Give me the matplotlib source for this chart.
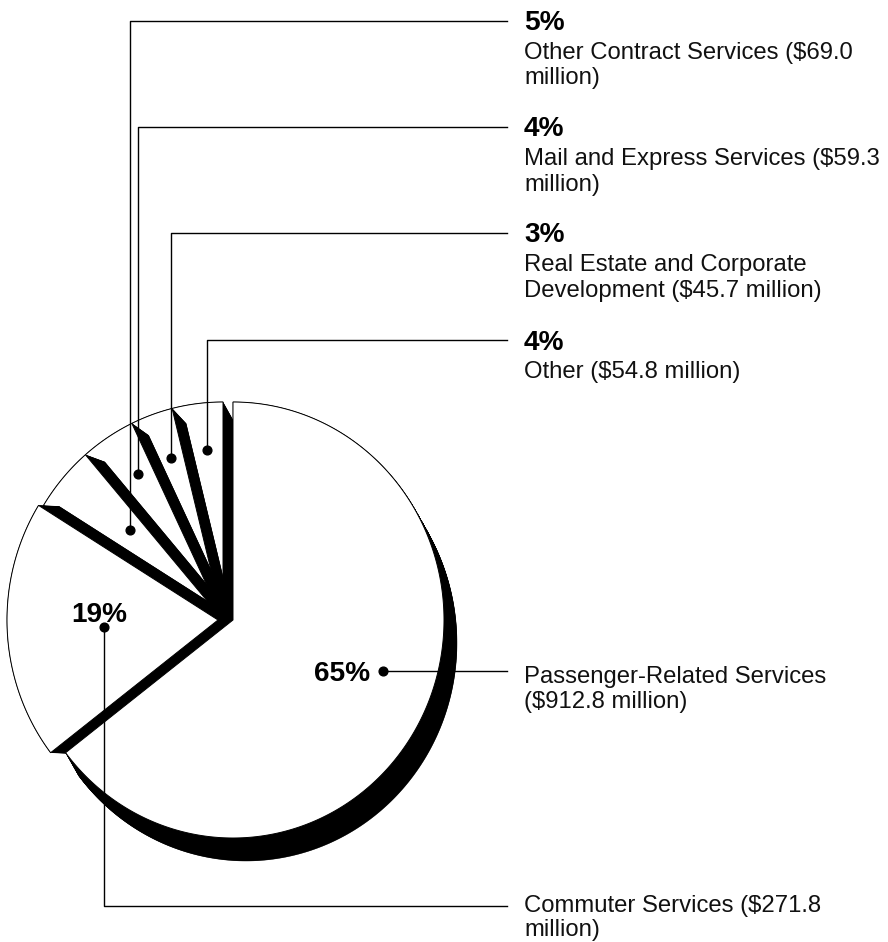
import textwrap
import numpy as np
import matplotlib
matplotlib.use("Agg")
import matplotlib.pyplot as plt
from matplotlib.patches import Polygon

# ---------------- data ----------------
categories = ["Passenger-Related Services", "Commuter Services",
              "Other Contract Services", "Mail and Express Services",
              "Real Estate and Corporate Development", "Other"]
values = [912.8, 271.8, 69.0, 59.3, 45.7, 54.8]   # $ million

# ---------------- layout ----------------
W, H = 888, 942
CX, CY = 223, 620          # pie centre (pixels)
RX, RY = 211, 218          # face radii (pixels)
shift_x = [10, -5, 0, 0, 0, 0]          # small horizontal separation of big slices
dot_dang = [8.1, 0.6, -2.6, -2.0, -1.3, -1.4]
dot_rad = [0.749, 0.541, 0.604, 0.783, 0.782, 0.784]
top_leader_y = {2: 20.7, 3: 127, 4: 233, 5: 340}
LINE_END, TEXT_X = 507, 524
BAND, INWARD = 10, 18
PASS_DEPTH = (13, 23)

plt.rcParams['font.family'] = ['Liberation Sans', 'DejaVu Sans']
fig = plt.figure(figsize=(W / 100, H / 100), dpi=100)
ax = fig.add_axes([0, 0, 1, 1])
ax.set_xlim(0, W)
ax.set_ylim(H, 0)
ax.axis('off')

total = sum(values)
fracs = [v / total for v in values]
his, los = [], []
start = 90.0
for f in fracs:
    his.append(start)
    start -= 360.0 * f
    los.append(start)


def wedge(cx, cy, lo, hi):
    n = max(10, int(abs(hi - lo) * 3))
    t = np.radians(np.linspace(lo, hi, n))
    xs = np.concatenate([[cx], cx + RX * np.cos(t)])
    ys = np.concatenate([[cy], cy - RY * np.sin(t)])
    return np.column_stack([xs, ys])


def sweep(poly, v, z):
    v = np.asarray(v, float)
    n = int(np.ceil(np.hypot(*v) / 0.5)) + 1
    for t in np.linspace(0, 1, n):
        ax.add_patch(Polygon(poly + t * v, closed=True, fc='black',
                             ec='black', lw=0.3, zorder=z))


def face(poly, z):
    ax.add_patch(Polygon(poly, closed=True, fc='white', ec='black',
                         lw=0.7, zorder=z, joinstyle='miter'))


polys = [wedge(CX + shift_x[i], CY, los[i], his[i]) for i in range(len(values))]

# passenger slice depth
sweep(polys[0], PASS_DEPTH, 1)
z = 2
for i in [5, 4, 3, 2, 1]:
    lo = np.radians(los[i])
    n_cw = np.array([np.sin(lo), -np.cos(lo)])
    u = np.array([np.cos(lo), np.sin(lo)])
    vm = BAND * n_cw - INWARD * u
    sweep(polys[i], (vm[0], -vm[1]), z)
    face(polys[i], z + 1)
    z += 2
face(polys[0], z + 1)

# ---------------- labels & leaders ----------------
bold = dict(fontsize=20.2, fontweight='bold', color='black', zorder=30)
reg = dict(fontsize=17.2, color='#111111', zorder=30)
LINE_GAP = 25.0

for i, (cat, val) in enumerate(zip(categories, values)):
    mid = 0.5 * (los[i] + his[i]) + dot_dang[i]
    a = np.radians(mid)
    dx = CX + shift_x[i] + dot_rad[i] * RX * np.cos(a)
    dy = CY - dot_rad[i] * RY * np.sin(a)
    pct = f"{round(100 * fracs[i])}%"
    lines = textwrap.wrap(f"{cat} (${val:.1f} million)", 32, break_on_hyphens=False)
    ax.plot([dx], [dy], 'o', color='black', ms=6.3, zorder=25)
    if i in top_leader_y:
        L = top_leader_y[i]
        ax.plot([dx, dx, LINE_END], [dy, L, L], color='black', lw=1.0, zorder=24)
        ax.text(TEXT_X, L + 9.5, pct, ha='left', va='baseline', **bold)
        for k, s in enumerate(lines):
            ax.text(TEXT_X, L + 38 + k * 25.5, s, ha='left', va='baseline', **reg)
    elif i == 0:
        L = dy
        ax.plot([dx, LINE_END], [dy, dy], color='black', lw=1.0, zorder=24)
        ax.text(dx - 13, dy + 10.3, pct, ha='right', va='baseline', **bold)
        for k, s in enumerate(lines):
            ax.text(TEXT_X, L + 12 + k * LINE_GAP, s, ha='left', va='baseline', **reg)
    else:
        L = 906
        ax.plot([dx, dx, LINE_END], [dy, L, L], color='black', lw=1.0, zorder=24)
        ax.text(dx - 5, dy - 5, pct, ha='center', va='baseline', **bold)
        for k, s in enumerate(lines):
            ax.text(TEXT_X, L + 6 + k * 24, s, ha='left', va='baseline', **reg)

fig.savefig("out.png", dpi=100, facecolor='white')
